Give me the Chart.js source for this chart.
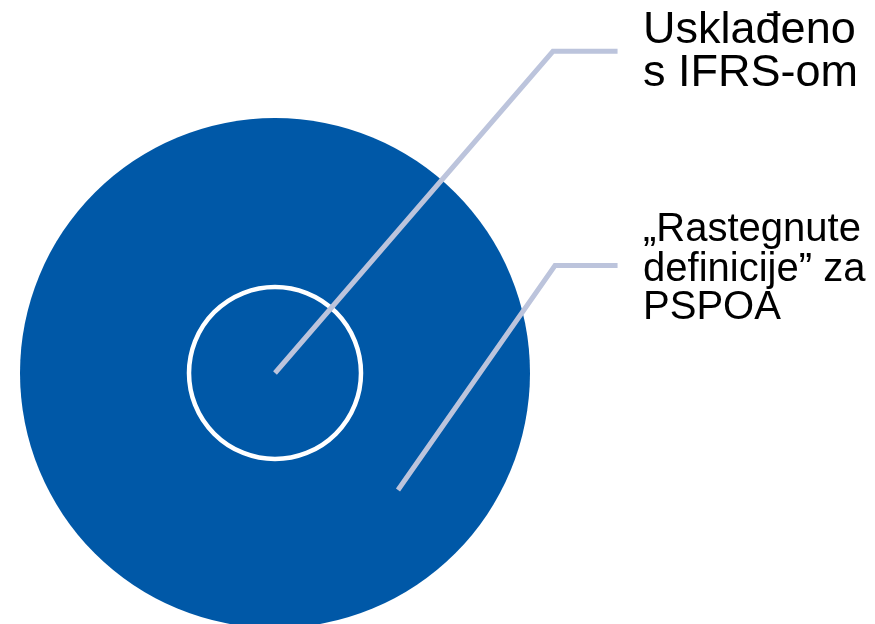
<!DOCTYPE html>
<html>
<head>
<meta charset="utf-8">
<script src="https://cdn.jsdelivr.net/npm/chart.js@4"></script>
<style>
  html, body { margin: 0; padding: 0; background: #ffffff; }
  #wrap { width: 875px; height: 624px; position: relative; }
</style>
</head>
<body>
<div id="wrap"><canvas id="c"></canvas></div>
<script>
// ---- data ----
const categories = ["Usklađeno s IFRS-om", "„Rastegnute definicije” za PSPOA"];
const labelLines = [["Usklađeno", "s IFRS-om"], ["„Rastegnute", "definicije” za", "PSPOA"]];
// relative radii of the nested sets (inner set = 1)
const setRadius = [1, 3];

// ---- layout / style (not data) ----
const PPU = 85;                 // pixels per unit on both axes
const W = 875, H = 624;
const CX = 275, CY = 373;       // pixel position of the common centre
const BLUE = "#0058a7";
const LEADER = "#bcc4dc";
const leaders = [
  [{x: 0, y: 0}, {x: 3.27, y: 3.785}, {x: 4.03, y: 3.785}],
  [{x: 1.447, y: -1.376}, {x: 3.294, y: 1.265}, {x: 4.03, y: 1.265}]
];
const labelAnchor = [
  {x: 4.33, y: 3.785, font: 45, dy: [-8, 35]},
  {x: 4.33, y: 1.265, font: 40, dy: [-24, 16, 54]}
];

function radiusPx(ctx, r) {
  const s = ctx.chart.scales.x;
  return Math.abs(s.getPixelForValue(r) - s.getPixelForValue(0));
}

const labelPlugin = {
  id: "labels",
  afterDatasetsDraw(chart) {
    const c = chart.ctx, sx = chart.scales.x, sy = chart.scales.y;
    c.save();
    c.fillStyle = "#000000";
    c.textAlign = "left";
    c.textBaseline = "alphabetic";
    labelLines.forEach((lines, i) => {
      const a = labelAnchor[i];
      c.font = a.font + "px 'Liberation Sans', Arial, sans-serif";
      const px = sx.getPixelForValue(a.x), py = sy.getPixelForValue(a.y);
      lines.forEach((t, j) => c.fillText(t, px, py + a.dy[j]));
    });
    c.restore();
  }
};

new Chart(document.getElementById("c"), {
  type: "scatter",
  data: {
    datasets: [
      { label: categories[0] + " leader", data: leaders[0], showLine: true, borderColor: LEADER, borderWidth: 5,
        pointRadius: 0, borderCapStyle: "butt", borderJoinStyle: "miter", clip: false },
      { label: categories[1] + " leader", data: leaders[1], showLine: true, borderColor: LEADER, borderWidth: 5,
        pointRadius: 0, borderCapStyle: "butt", borderJoinStyle: "miter", clip: false },
      { label: categories[0], data: [{x: 0, y: 0}], backgroundColor: BLUE, borderColor: "#ffffff", borderWidth: 4.5,
        pointRadius: ctx => radiusPx(ctx, setRadius[0]) + 1, pointHoverRadius: ctx => radiusPx(ctx, setRadius[0]) + 1, clip: false },
      { label: categories[1], data: [{x: 0, y: 0}], backgroundColor: BLUE, borderColor: BLUE, borderWidth: 0,
        pointRadius: ctx => radiusPx(ctx, setRadius[1]), pointHoverRadius: ctx => radiusPx(ctx, setRadius[1]), clip: false }
    ]
  },
  options: {
    responsive: true,
    maintainAspectRatio: false,
    animation: false,
    events: [],
    layout: { padding: 0 },
    plugins: { legend: { display: false }, tooltip: { enabled: false } },
    scales: {
      x: { type: "linear", display: false, min: -CX / PPU, max: (W - CX) / PPU },
      y: { type: "linear", display: false, min: -(H - CY) / PPU, max: CY / PPU }
    }
  },
  plugins: [labelPlugin]
});
</script>
</body>
</html>
